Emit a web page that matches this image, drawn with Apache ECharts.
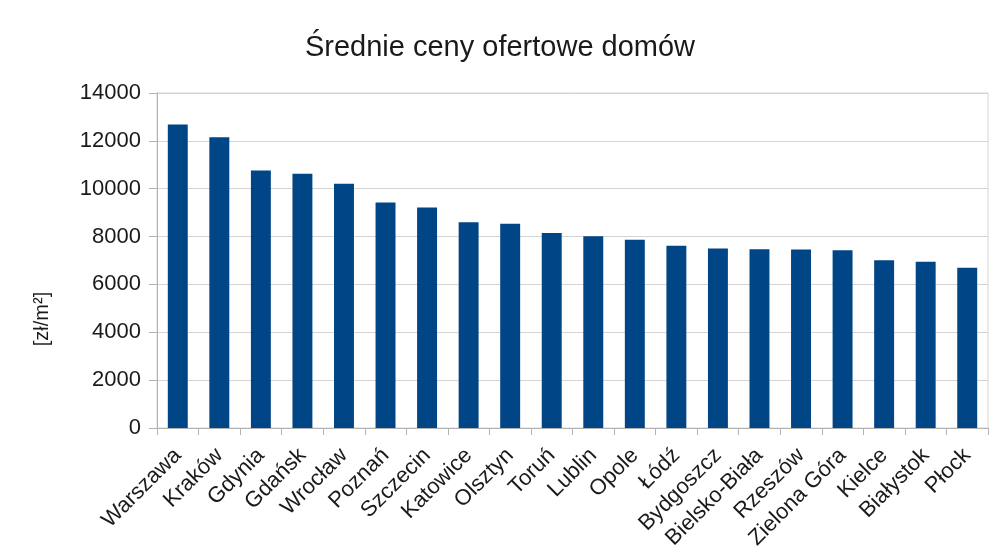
<!DOCTYPE html>
<html>
<head>
<meta charset="utf-8">
<script src="https://cdn.jsdelivr.net/npm/echarts@6/dist/echarts.min.js"></script>
<style>html,body{margin:0;padding:0;background:#fff;}#c{width:1000px;height:560px;}</style>
</head>
<body>
<div id="c"></div>
<script>
var titleText = 'Średnie ceny ofertowe domów';
var yAxisTitle = '[zł/m²]';
var categories = ['Warszawa','Kraków','Gdynia','Gdańsk','Wrocław','Poznań','Szczecin','Katowice','Olsztyn','Toruń','Lublin','Opole','Łódź','Bydgoszcz','Bielsko-Biała','Rzeszów','Zielona Góra','Kielce','Białystok','Płock'];
var prices = [12680, 12150, 10760, 10630, 10210, 9420, 9220, 8600, 8540, 8150, 8010, 7870, 7620, 7500, 7470, 7455, 7430, 7010, 6950, 6700];
var yMin = 0, yMax = 14000, yStep = 2000;

var chart = echarts.init(document.getElementById('c'), null, {renderer: 'canvas'});
var font = '"Liberation Sans", Arial, sans-serif';
chart.setOption({
  animation: false,
  backgroundColor: '#ffffff',
  title: {
    text: titleText,
    left: 'center',
    top: 28,
    textStyle: {fontFamily: font, fontSize: 29, fontWeight: 'normal', color: '#1a1a1a'}
  },
  grid: {
    left: 157, right: 12, top: 93, bottom: 132,
    show: true, borderColor: '#d4d4d4', borderWidth: 1
  },
  graphic: [{
    type: 'text',
    x: 42, y: 319,
    rotation: Math.PI / 2,
    style: {text: yAxisTitle, fontFamily: font, fontSize: 20, fill: '#1a1a1a', textAlign: 'center', textVerticalAlign: 'middle'}
  }],
  xAxis: {
    type: 'category',
    data: categories,
    axisLine: {lineStyle: {color: '#b3b3b3'}},
    axisTick: {show: true, length: 7, lineStyle: {color: '#b3b3b3'}},
    axisLabel: {rotate: 45, margin: 24, interval: 0, fontFamily: font, fontSize: 22, color: '#1a1a1a'}
  },
  yAxis: {
    type: 'value',
    min: yMin, max: yMax, interval: yStep,
    axisLine: {show: true, lineStyle: {color: '#b3b3b3'}},
    axisTick: {show: true, length: 8, lineStyle: {color: '#b3b3b3'}},
    splitLine: {lineStyle: {color: '#d4d4d4'}},
    axisLabel: {margin: 16, fontFamily: font, fontSize: 22, color: '#1a1a1a', formatter: function (v) { return String(v); }}
  },
  series: [{
    type: 'bar',
    data: prices,
    barWidth: '48%',
    itemStyle: {color: '#004586'}
  }]
});
</script>
</body>
</html>
